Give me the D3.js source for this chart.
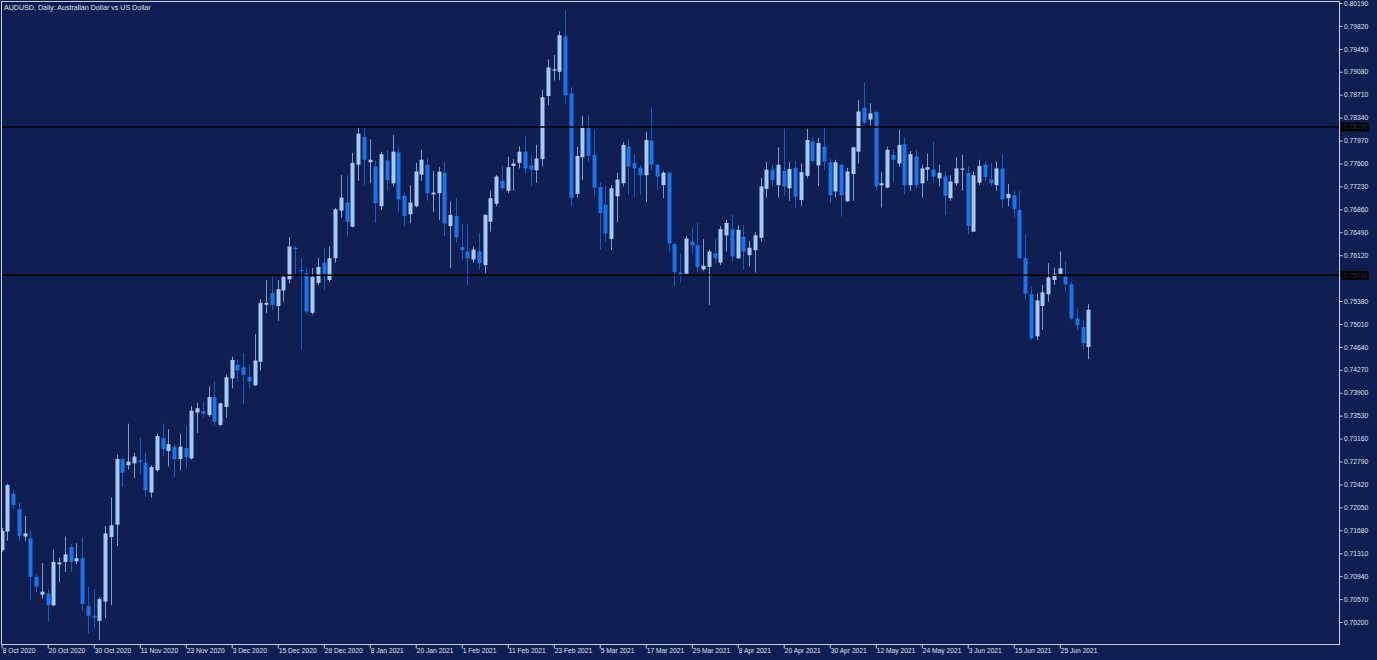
<!DOCTYPE html>
<html>
<head>
<meta charset="utf-8">
<script src="https://cdn.jsdelivr.net/npm/d3@7"></script>
<style>
html, body { margin: 0; padding: 0; background: #101f52; overflow: hidden; }
svg { display: block; }
text { font-family: "Liberation Sans", Arial, sans-serif; font-size: 6.7px; fill: #dde2ec; }
</style>
</head>
<body>
<div id="chart"></div>
<script>
// AUDUSD daily candles, 8 Oct 2020 .. 2 Jul 2021 (one entry per trading day)
var opens = [
 0.7136,0.7166,0.7227,0.7202,0.7158,0.7155,0.7093,0.7064,0.7066,0.7047,
 0.7113,0.7117,0.7141,0.7118,0.7123,0.7046,0.7030,0.7022,0.7053,0.7157,
 0.7177,0.7283,0.7273,0.7276,0.7281,0.7277,0.7229,0.7265,0.7317,0.7296,
 0.7303,0.7283,0.7301,0.7284,0.7358,0.7360,0.7354,0.7383,0.7338,0.7367,
 0.7413,0.7435,0.7431,0.7416,0.7402,0.7440,0.7532,0.7551,0.7530,0.7555,
 0.7573,0.7624,0.7588,0.7583,0.7519,0.7567,0.7600,0.7572,0.7607,0.7684,
 0.7697,0.7658,0.7758,0.7803,0.7762,0.7755,0.7691,0.7765,0.7728,0.7778,
 0.7708,0.7678,0.7691,0.7742,0.7758,0.7710,0.7712,0.7745,0.7659,0.7675,
 0.7625,0.7618,0.7605,0.7618,0.7596,0.7666,0.7695,0.7732,0.7716,0.7756,
 0.7761,0.7779,0.7757,0.7749,0.7767,0.7869,0.7910,0.7908,0.7965,0.7873,
 0.7711,0.7770,0.7817,0.7774,0.7722,0.7693,0.7638,0.7707,0.7728,0.7787,
 0.7761,0.7753,0.7741,0.7797,0.7758,0.7725,0.7745,0.7630,0.7584,0.7582,
 0.7634,0.7628,0.7589,0.7593,0.7615,0.7600,0.7644,0.7654,0.7607,0.7642,
 0.7612,0.7620,0.7640,0.7719,0.7750,0.7725,0.7748,0.7720,0.7753,0.7701,
 0.7740,0.7795,0.7757,0.7787,0.7762,0.7715,0.7758,0.7699,0.7743,0.7779,
 0.7850,0.7831,0.7843,0.7725,0.7721,0.7774,0.7760,0.7791,0.7725,0.7771,
 0.7728,0.7750,0.7750,0.7736,0.7739,0.7704,0.7728,0.7750,0.7745,0.7650,
 0.7729,0.7758,0.7734,0.7725,0.7752,0.7704,0.7709,0.7685,0.7607,0.7549,
 0.7481,0.7530,0.7549,0.7572,0.7582,0.7577,0.7565,0.7510,0.7496,0.7464
];
var highs = [
 0.7172,0.7243,0.7234,0.7212,0.7191,0.7168,0.7097,0.7115,0.7073,0.7137,
 0.7124,0.7158,0.7146,0.7147,0.7157,0.7077,0.7073,0.7060,0.7175,0.7221,
 0.7290,0.7286,0.7340,0.7293,0.7318,0.7293,0.7273,0.7324,0.7340,0.7331,
 0.7306,0.7323,0.7336,0.7369,0.7374,0.7376,0.7400,0.7408,0.7374,0.7419,
 0.7448,0.7443,0.7454,0.7435,0.7485,0.7541,0.7572,0.7577,0.7572,0.7580,
 0.7641,0.7627,0.7607,0.7591,0.7591,0.7607,0.7623,0.7626,0.7688,0.7741,
 0.7741,0.7777,0.7819,0.7818,0.7799,0.7765,0.7779,0.7782,0.7806,0.7788,
 0.7713,0.7725,0.7761,0.7782,0.7770,0.7748,0.7754,0.7763,0.7698,0.7704,
 0.7662,0.7662,0.7626,0.7648,0.7678,0.7716,0.7741,0.7756,0.7771,0.7767,
 0.7788,0.7804,0.7772,0.7790,0.7879,0.7928,0.7935,0.7973,0.8008,0.7883,
 0.7787,0.7837,0.7838,0.7815,0.7729,0.7723,0.7725,0.7745,0.7795,0.7799,
 0.7775,0.7757,0.7811,0.7849,0.7760,0.7748,0.7747,0.7632,0.7615,0.7643,
 0.7655,0.7664,0.7638,0.7621,0.7638,0.7659,0.7669,0.7677,0.7660,0.7661,
 0.7635,0.7649,0.7737,0.7762,0.7758,0.7786,0.7816,0.7762,0.7764,0.7760,
 0.7816,0.7803,0.7801,0.7817,0.7768,0.7766,0.7760,0.7753,0.7787,0.7862,
 0.7891,0.7857,0.7845,0.7746,0.7787,0.7783,0.7814,0.7802,0.7780,0.7782,
 0.7758,0.7776,0.7795,0.7758,0.7747,0.7741,0.7770,0.7774,0.7755,0.7747,
 0.7766,0.7763,0.7761,0.7763,0.7775,0.7727,0.7716,0.7716,0.7646,0.7561,
 0.7550,0.7564,0.7599,0.7592,0.7618,0.7602,0.7569,0.7526,0.7508,0.7533
];
var lows = [
 0.7133,0.7151,0.7202,0.7150,0.7151,0.7056,0.7069,0.7058,0.7021,0.7045,
 0.7085,0.7101,0.7101,0.7114,0.7037,0.7002,0.7010,0.6991,0.7026,0.7047,
 0.7143,0.7238,0.7266,0.7252,0.7259,0.7222,0.7221,0.7263,0.7288,0.7271,
 0.7254,0.7265,0.7268,0.7282,0.7325,0.7350,0.7351,0.7338,0.7336,0.7350,
 0.7397,0.7408,0.7372,0.7397,0.7401,0.7426,0.7519,0.7524,0.7506,0.7537,
 0.7567,0.7582,0.7460,0.7516,0.7516,0.7564,0.7556,0.7569,0.7600,0.7673,
 0.7642,0.7657,0.7732,0.7725,0.7728,0.7664,0.7685,0.7717,0.7723,0.7681,
 0.7658,0.7664,0.7689,0.7732,0.7700,0.7682,0.7669,0.7643,0.7591,0.7631,
 0.7605,0.7564,0.7600,0.7589,0.7583,0.7650,0.7691,0.7716,0.7712,0.7716,
 0.7752,0.7744,0.7724,0.7729,0.7756,0.7854,0.7894,0.7895,0.7857,0.7691,
 0.7706,0.7733,0.7763,0.7707,0.7621,0.7634,0.7620,0.7666,0.7723,0.7709,
 0.7706,0.7709,0.7698,0.7749,0.7717,0.7704,0.7618,0.7562,0.7567,0.7580,
 0.7612,0.7585,0.7587,0.7532,0.7599,0.7596,0.7618,0.7602,0.7606,0.7588,
 0.7594,0.7584,0.7634,0.7705,0.7723,0.7705,0.7708,0.7700,0.7689,0.7692,
 0.7736,0.7760,0.7724,0.7749,0.7696,0.7705,0.7674,0.7698,0.7700,0.7760,
 0.7823,0.7821,0.7717,0.7689,0.7720,0.7730,0.7755,0.7710,0.7716,0.7719,
 0.7705,0.7732,0.7729,0.7723,0.7677,0.7700,0.7724,0.7716,0.7646,0.7650,
 0.7725,0.7731,0.7724,0.7716,0.7688,0.7691,0.7673,0.7607,0.7540,0.7475,
 0.7475,0.7492,0.7537,0.7564,0.7578,0.7553,0.7507,0.7491,0.7460,0.7444
];
var closes = [
 0.7167,0.7241,0.7209,0.7159,0.7163,0.7093,0.7077,0.7069,0.7047,0.7117,
 0.7116,0.7129,0.7117,0.7123,0.7049,0.7030,0.7027,0.7057,0.7163,0.7176,
 0.7283,0.7261,0.7279,0.7287,0.7278,0.7233,0.7270,0.7320,0.7299,0.7307,
 0.7283,0.7303,0.7286,0.7361,0.7365,0.7356,0.7383,0.7343,0.7373,0.7415,
 0.7443,0.7426,0.7419,0.7408,0.7442,0.7535,0.7535,0.7532,0.7557,0.7577,
 0.7626,0.7622,0.7586,0.7521,0.7577,0.7593,0.7582,0.7607,0.7686,0.7705,
 0.7666,0.7761,0.7808,0.7766,0.7766,0.7696,0.7775,0.7733,0.7779,0.7702,
 0.7675,0.7697,0.7747,0.7766,0.7712,0.7713,0.7747,0.7663,0.7677,0.7641,
 0.7620,0.7607,0.7621,0.7599,0.7677,0.7704,0.7739,0.7720,0.7754,0.7760,
 0.7779,0.7752,0.7750,0.7768,0.7867,0.7915,0.7912,0.7967,0.7870,0.7704,
 0.7772,0.7818,0.7772,0.7721,0.7680,0.7647,0.7720,0.7734,0.7790,0.7755,
 0.7752,0.7741,0.7798,0.7758,0.7739,0.7745,0.7631,0.7585,0.7580,0.7639,
 0.7628,0.7593,0.7595,0.7618,0.7607,0.7654,0.7664,0.7610,0.7653,0.7618,
 0.7624,0.7644,0.7723,0.7750,0.7733,0.7758,0.7723,0.7751,0.7706,0.7746,
 0.7798,0.7764,0.7793,0.7763,0.7709,0.7762,0.7709,0.7747,0.7786,0.7844,
 0.7826,0.7841,0.7723,0.7728,0.7782,0.7766,0.7790,0.7725,0.7775,0.7725,
 0.7752,0.7754,0.7739,0.7745,0.7708,0.7731,0.7752,0.7752,0.7659,0.7741,
 0.7756,0.7738,0.7728,0.7752,0.7702,0.7711,0.7686,0.7607,0.7550,0.7478,
 0.7539,0.7552,0.7576,0.7582,0.7591,0.7565,0.7510,0.7499,0.7470,0.7524
];

// time axis: a label every 8 bars
var dateLabels = ["8 Oct 2020","20 Oct 2020","30 Oct 2020","11 Nov 2020","23 Nov 2020",
  "3 Dec 2020","15 Dec 2020","28 Dec 2020","8 Jan 2021","20 Jan 2021","1 Feb 2021",
  "11 Feb 2021","23 Feb 2021","5 Mar 2021","17 Mar 2021","29 Mar 2021","8 Apr 2021",
  "20 Apr 2021","30 Apr 2021","12 May 2021","24 May 2021","3 Jun 2021","15 Jun 2021",
  "25 Jun 2021"];
var labelStep = 8;

var priceTicks = [0.80190,0.79820,0.79450,0.79080,0.78710,0.78340,0.77970,0.77600,
  0.77230,0.76860,0.76490,0.76120,0.75750,0.75380,0.75010,0.74640,0.74270,0.73900,
  0.73530,0.73160,0.72790,0.72420,0.72050,0.71680,0.71310,0.70940,0.70570,0.70200];

// horizontal levels drawn on the chart
var levels = [0.78190, 0.75796];

var title = "AUDUSD, Daily:  Australian Dollar vs US Dollar";

// --> drawing area
var W = 1377, H = 660;
var plot = {left: 1.5, top: 1.5, right: 1339.5, bottom: 644.5};

var bullColor = "#a6c9f5", bearColor = "#1b74e8";

var svg = d3.select("#chart").append("svg")
    .attr("width", W)
    .attr("height", H);

svg.append("rect").attr("width", W).attr("height", H).attr("fill", "#101f52");

// scales
var x = d3.scaleLinear().domain([0, labelStep]).range([1.7, 47.7]);
var y = d3.scaleLinear().domain([0.70200, 0.80190]).range([622, 3]);

svg.append("clipPath").attr("id", "clip")
    .append("rect")
    .attr("x", plot.left).attr("y", plot.top)
    .attr("width", plot.right - plot.left).attr("height", plot.bottom - plot.top);

var g = svg.append("g").attr("clip-path", "url(#clip)");

var bars = d3.range(opens.length).map(function(i){
    return {i: i, o: opens[i], h: highs[i], l: lows[i], c: closes[i]};
});

// wicks
g.selectAll(".wick")
    .data(bars)
    .enter().append("line")
    .attr("class", "wick")
    .attr("x1", function(d){ return Math.round(x(d.i)) + 0.5; })
    .attr("x2", function(d){ return Math.round(x(d.i)) + 0.5; })
    .attr("y1", function(d){ return y(d.h); })
    .attr("y2", function(d){ return y(d.l); })
    .attr("stroke", function(d){ return d.c >= d.o ? bullColor : bearColor; })
    .attr("stroke-opacity", 0.75)
    .attr("stroke-width", 1);

// bodies
g.selectAll(".body")
    .data(bars)
    .enter().append("rect")
    .attr("class", "body")
    .attr("x", function(d){ return Math.round(x(d.i)) - 1.5; })
    .attr("width", 4)
    .attr("y", function(d){ return y(Math.max(d.o, d.c)); })
    .attr("height", function(d){ return Math.max(1, Math.abs(y(d.o) - y(d.c))); })
    .attr("fill", function(d){ return d.c >= d.o ? bullColor : bearColor; });

// level lines
g.selectAll(".level")
    .data(levels)
    .enter().append("line")
    .attr("class", "level")
    .attr("x1", plot.left).attr("x2", plot.right)
    .attr("y1", function(d){ return y(d); })
    .attr("y2", function(d){ return y(d); })
    .attr("stroke", "#000000")
    .attr("stroke-width", 1.5);

// frame
svg.append("rect")
    .attr("x", plot.left).attr("y", plot.top)
    .attr("width", plot.right - plot.left).attr("height", plot.bottom - plot.top)
    .attr("fill", "none")
    .attr("stroke", "#c9cfdc")
    .attr("stroke-width", 1);

// price axis; a tick label sitting under a level tag is hidden by it
function underTag(v){
    return levels.some(function(l){ return Math.abs(y(l) - y(v)) < 8; });
}
var yAxis = d3.axisRight(y)
    .tickValues(priceTicks)
    .tickSize(3)
    .tickSizeOuter(0)
    .tickPadding(1.5)
    .tickFormat(function(d){ return underTag(d) ? "" : d3.format(".5f")(d); });

var ya = svg.append("g")
    .attr("transform", "translate(" + plot.right + ",0)")
    .call(yAxis);
ya.select(".domain").remove();
ya.selectAll(".tick line").attr("stroke", "#c9cfdc");
ya.selectAll(".tick text").attr("fill", "#dde2ec").style("font-size", "6.7px")
    .style("font-family", "'Liberation Sans', Arial, sans-serif");

// level price tags
var tags = svg.selectAll(".tag")
    .data(levels)
    .enter().append("g")
    .attr("class", "tag")
    .attr("transform", function(d){ return "translate(" + (plot.right + 1) + "," + y(d) + ")"; });
tags.append("rect")
    .attr("x", 0).attr("y", -4.5).attr("width", 28).attr("height", 9)
    .attr("fill", "#000000");
tags.append("text")
    .attr("x", 3).attr("dy", "0.35em")
    .style("fill", "#2c3240")
    .text(function(d){ return d3.format(".5f")(d); });

// time axis
var xAxis = d3.axisBottom(x)
    .tickValues(d3.range(0, dateLabels.length * labelStep, labelStep))
    .tickSize(4)
    .tickSizeOuter(0)
    .tickFormat(function(d){ return dateLabels[d / labelStep]; });

var xa = svg.append("g")
    .attr("transform", "translate(0," + plot.bottom + ")")
    .call(xAxis);
xa.select(".domain").remove();
xa.selectAll(".tick line").attr("stroke", "#c9cfdc");
xa.selectAll(".tick text")
    .attr("text-anchor", "start")
    .attr("x", 0.5)
    .attr("y", 4)
    .attr("dy", "0.71em")
    .attr("fill", "#dde2ec").style("font-size", "6.7px")
    .style("font-family", "'Liberation Sans', Arial, sans-serif");

// title
svg.append("text")
    .attr("x", 4).attr("y", 9.5)
    .style("font-size", "7.1px")
    .text(title);
</script>
</body>
</html>
